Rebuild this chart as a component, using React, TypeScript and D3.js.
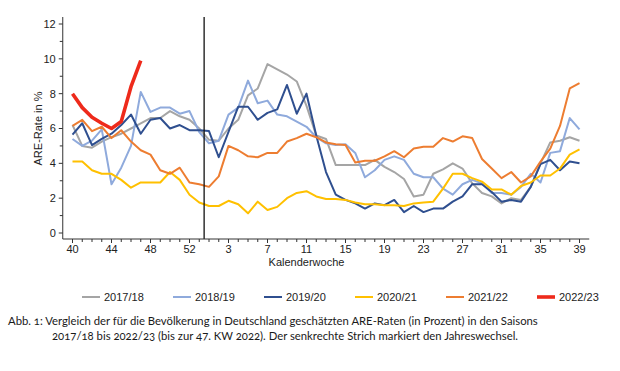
import React from "react";
import * as d3 from "d3";

const weeks: number[] = [40, 41, 42, 43, 44, 45, 46, 47, 48, 49, 50, 51, 52, 53, 1, 2, 3, 4, 5, 6, 7, 8, 9, 10, 11, 12, 13, 14, 15, 16, 17, 18, 19, 20, 21, 22, 23, 24, 25, 26, 27, 28, 29, 30, 31, 32, 33, 34, 35, 36, 37, 38, 39];
const labeledWeeks: number[] = [40, 44, 48, 52, 3, 7, 11, 15, 19, 23, 27, 31, 35, 39];
const yTicks: number[] = [0, 2, 4, 6, 8, 10, 12];

const s2017: number[] = [6.2, 5.0, 4.9, 5.25, 5.5, 5.7, 6.0, 6.3, 6.6, 6.6, 7.0, 6.7, 6.5, 6.0,
  5.35, 5.3, 6.0, 6.5, 7.9, 8.3, 9.7, 9.4, 9.1, 8.7, 7.3, 5.6, 5.4, 3.9,
  3.9, 3.9, 3.9, 4.2, 3.8, 3.5, 3.1, 2.1, 2.2, 3.4, 3.65, 4.0, 3.7,
  2.85, 2.3, 2.1, 1.7, 2.0, 1.9, 2.65, 4.0, 5.2, 5.3, 5.5, 5.3];
const s2018: number[] = [5.4, 5.0, 5.3, 5.95, 2.8, 3.75, 5.0, 8.1, 6.95, 7.2, 7.2, 6.85, 7.0, 5.8,
  5.15, 5.3, 6.8, 7.2, 8.75, 7.45, 7.6, 6.8, 6.7, 6.4, 6.1, 5.5, 5.15, 5.05,
  5.1, 4.6, 3.2, 3.6, 4.2, 4.4, 4.2, 3.4, 3.2, 3.2, 2.55, 2.2, 2.8,
  3.05, 2.85, 2.3, 2.3, 2.2, 2.65, 3.4, 2.9, 4.6, 4.7, 6.6, 5.95];
const s2019: number[] = [5.65, 6.3, 5.05, 5.4, 5.7, 6.2, 6.8, 5.7, 6.5, 6.6, 6.0, 6.2, 5.9, 5.9,
  5.85, 4.35, 5.8, 7.25, 7.25, 6.5, 6.9, 7.1, 8.5, 6.85, 8.0, 5.6, 3.5, 2.2,
  1.9, 1.7, 1.4, 1.7, 1.6, 1.9, 1.2, 1.55, 1.2, 1.4, 1.4, 1.8, 2.1,
  2.8, 2.8, 2.35, 1.8, 1.9, 1.8, 2.65, 3.95, 4.2, 3.6, 4.1, 4.0];
const s2020: number[] = [4.1, 4.1, 3.6, 3.4, 3.4, 3.05, 2.6, 2.9, 2.9, 2.9, 3.5, 3.05, 2.2, 1.75,
  1.55, 1.55, 1.85, 1.65, 1.13, 1.8, 1.32, 1.5, 2.0, 2.3, 2.4, 2.1, 1.95, 1.95,
  1.9, 1.75, 1.65, 1.65, 1.6, 1.6, 1.55, 1.7, 1.75, 1.8, 2.55, 3.4, 3.4,
  3.15, 2.95, 2.5, 2.5, 2.2, 2.7, 2.9, 3.3, 3.3, 3.7, 4.5, 4.8];
const s2021: number[] = [6.15, 6.5, 5.85, 6.1, 5.45, 5.9, 5.25, 4.75, 4.5, 3.6, 3.4, 3.75, 2.9, 2.8,
  2.65, 3.25, 5.0, 4.75, 4.4, 4.35, 4.6, 4.6, 5.25, 5.45, 5.7, 5.5, 5.2, 5.1,
  5.05, 4.05, 4.15, 4.15, 4.4, 4.7, 4.35, 4.85, 4.95, 4.95, 5.45, 5.25, 5.55,
  5.45, 4.25, 3.7, 3.15, 3.5, 2.9, 3.25, 4.1, 4.85, 6.15, 8.3, 8.6];
const s2022: number[] = [8.0, 7.2, 6.65, 6.3, 6.0, 6.4, 8.4, 9.9];

const seasonNames: string[] = ["2017/18", "2018/19", "2019/20", "2020/21", "2021/22", "2022/23"];
const seasonValues: number[][] = [s2017, s2018, s2019, s2020, s2021, s2022];
const seasonColors: string[] = ["#a5a5a5", "#8faadc", "#2f4f8f", "#ffc000", "#ed7d31", "#ee2a1b"];
const seasonWidths: number[] = [2, 2, 2, 2, 2, 3.6];

const caption1 = "Abb. 1: Vergleich der für die Bevölkerung in Deutschland geschätzten ARE-Raten (in Prozent) in den Saisons";
const caption2 = "2017/18 bis 2022/23 (bis zur 47. KW 2022). Der senkrechte Strich markiert den Jahreswechsel.";

export default function App() {
  const W = 620, H = 371;
  const x = d3.scaleLinear().domain([-1, weeks.length]).range([62.75, 589.25]);
  const y = d3.scaleLinear().domain([0, 12]).range([233, 24]);
  const axisY = 239;
  const topY = 17;
  const font = "'Liberation Sans', Arial, sans-serif";
  const line = d3.line<number>().x((_, i) => x(i)).y((d) => y(d));
  const yearBreak = x(weeks.indexOf(53) + 0.5);
  const minorY = d3.range(0, 13, 1);

  return (
    <svg width={W} height={H} style={{ position: "absolute", left: 0, top: 0, background: "#fff" }}>
      {seasonValues.map((vals, k) => (
        <path key={k} d={line(vals) || ""} fill="none" stroke={seasonColors[k]}
          strokeWidth={seasonWidths[k]} strokeLinejoin="round" strokeLinecap="butt" />
      ))}
      <line x1={yearBreak} x2={yearBreak} y1={topY} y2={axisY} stroke="#111" strokeWidth={1.3} />
      <line x1={x(-1)} x2={x(-1)} y1={topY} y2={axisY} stroke="#333" strokeWidth={1} />
      {minorY.map((v) => (
        <line key={"yt" + v} x1={x(-1) - (v % 2 === 0 ? 4 : 3)} x2={x(-1)} y1={y(v)} y2={y(v)} stroke="#333" strokeWidth={1} />
      ))}
      {yTicks.map((v) => (
        <text key={"yl" + v} x={x(-1) - 7} y={y(v)} dy="0.35em" textAnchor="end" fontFamily={font} fontSize={11} fill="#222">{v}</text>
      ))}
      <text transform={`translate(38,${y(6)}) rotate(-90)`} textAnchor="middle" dy="0.35em" fontFamily={font} fontSize={11} fill="#222">ARE-Rate in %</text>
      <line x1={x(-1)} x2={x(weeks.length)} y1={axisY} y2={axisY} stroke="#333" strokeWidth={1} />
      {weeks.map((w, i) => (
        <line key={"xt" + i} x1={x(i)} x2={x(i)} y1={axisY} y2={axisY + (labeledWeeks.includes(w) ? 4 : 3)} stroke="#333" strokeWidth={1} />
      ))}
      {weeks.map((w, i) => labeledWeeks.includes(w) ? (
        <text key={"xl" + i} x={x(i)} y={axisY + 14} textAnchor="middle" fontFamily={font} fontSize={11} fill="#222">{w}</text>
      ) : null)}
      <text x={x(weeks.indexOf(11))} y={axisY + 27} textAnchor="middle" fontFamily={font} fontSize={11} fill="#222">Kalenderwoche</text>
      {seasonNames.map((n, k) => {
        const lx = 82 + k * 91;
        return (
          <g key={"lg" + k}>
            <line x1={lx} x2={lx + 18} y1={297} y2={297} stroke={seasonColors[k]} strokeWidth={k === 5 ? 3.6 : 2} />
            <text x={lx + 22} y={297} dy="0.35em" fontFamily={font} fontSize={11} fill="#222">{n}</text>
          </g>
        );
      })}
      <text x={8} y={325} fontFamily="Lato, 'Open Sans', sans-serif" fontSize={11.3} fill="#1a1a1a" style={{ fontVariantNumeric: "oldstyle-nums" }}>{caption1}</text>
      <text x={52} y={340} fontFamily="Lato, 'Open Sans', sans-serif" fontSize={11.3} fill="#1a1a1a" style={{ fontVariantNumeric: "oldstyle-nums" }}>{caption2}</text>
    </svg>
  );
}
